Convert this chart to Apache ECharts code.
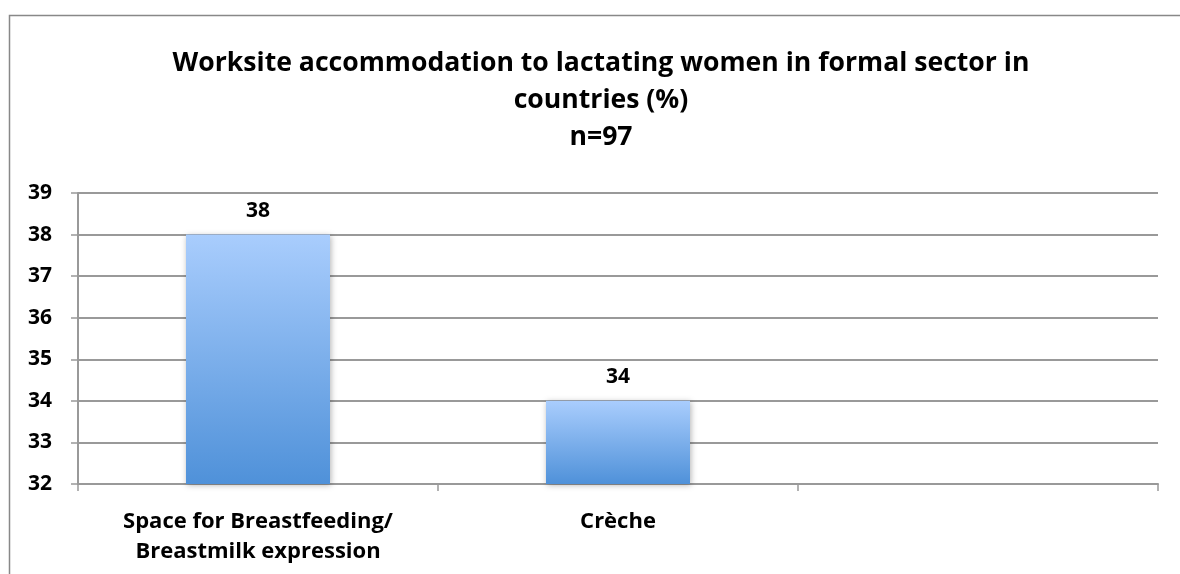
<!DOCTYPE html>
<html>
<head>
<meta charset="utf-8">
<script src="https://cdn.jsdelivr.net/npm/echarts@6/dist/echarts.min.js"></script>
<style>
  html, body { margin: 0; padding: 0; background: #fff; }
  #chart { width: 1180px; height: 574px; }
</style>
</head>
<body>
<div id="chart"></div>
<script>
// chart data
var categories = ['Space for Breastfeeding/\nBreastmilk expression', 'Crèche', ''];
var values = [38, 34, null];
var yMin = 32, yMax = 39;
var titleText = 'Worksite accommodation to lactating women in formal sector in\ncountries (%)\nn=97';

var chart = echarts.init(document.getElementById('chart'));
var font = '"Open Sans", sans-serif';

var option = {
    animation: false,
    backgroundColor: '#fff',
    textStyle: { fontFamily: font },
    graphic: [{
        // chart frame, only its left and top edges are inside the picture
        type: 'rect',
        left: 7, top: 13,
        shape: { width: 1200, height: 600 },
        style: { fill: 'none', stroke: '#888', lineWidth: 1.5 },
        silent: true
    }, {
        // title, centred a bit right of the canvas middle
        type: 'text',
        x: 601, y: 45,
        style: {
            text: titleText,
            align: 'center',
            verticalAlign: 'top',
            fontSize: 26.6,
            fontWeight: 'bold',
            fontFamily: font,
            lineHeight: 37,
            fill: '#000'
        },
        silent: true
    }],
    grid: { left: 78, right: 22, top: 193, bottom: 90 },
    xAxis: {
        type: 'category',
        data: categories,
        axisLine: { lineStyle: { color: '#999', width: 2 } },
        axisTick: { show: true, length: 7, lineStyle: { color: '#999', width: 1.5 } },
        axisLabel: { color: '#000', fontSize: 22, fontWeight: 'bold', lineHeight: 30, margin: 23, fontFamily: font }
    },
    yAxis: {
        type: 'value',
        min: yMin, max: yMax, interval: 1,
        axisLine: { show: true, lineStyle: { color: '#999', width: 2 } },
        axisTick: { show: true, length: 7, lineStyle: { color: '#999', width: 1.5 } },
        splitLine: { lineStyle: { color: '#999', width: 2 } },
        axisLabel: { color: '#000', fontSize: 21, fontWeight: 'bold', margin: 26, fontFamily: font }
    },
    series: [{
        type: 'bar',
        data: values,
        barWidth: '40%',
        itemStyle: {
            color: new echarts.graphic.LinearGradient(0, 0, 0, 1, [
                { offset: 0, color: '#a9cdfd' },
                { offset: 1, color: '#4f91d9' }
            ]),
            shadowColor: 'rgba(0,0,0,0.3)',
            shadowBlur: 6,
            shadowOffsetX: 1,
            shadowOffsetY: 1
        },
        label: {
            show: true,
            position: 'top',
            distance: 13,
            color: '#000',
            fontSize: 21,
            fontWeight: 'bold',
            fontFamily: font
        }
    }]
};

chart.setOption(option);
</script>
</body>
</html>
